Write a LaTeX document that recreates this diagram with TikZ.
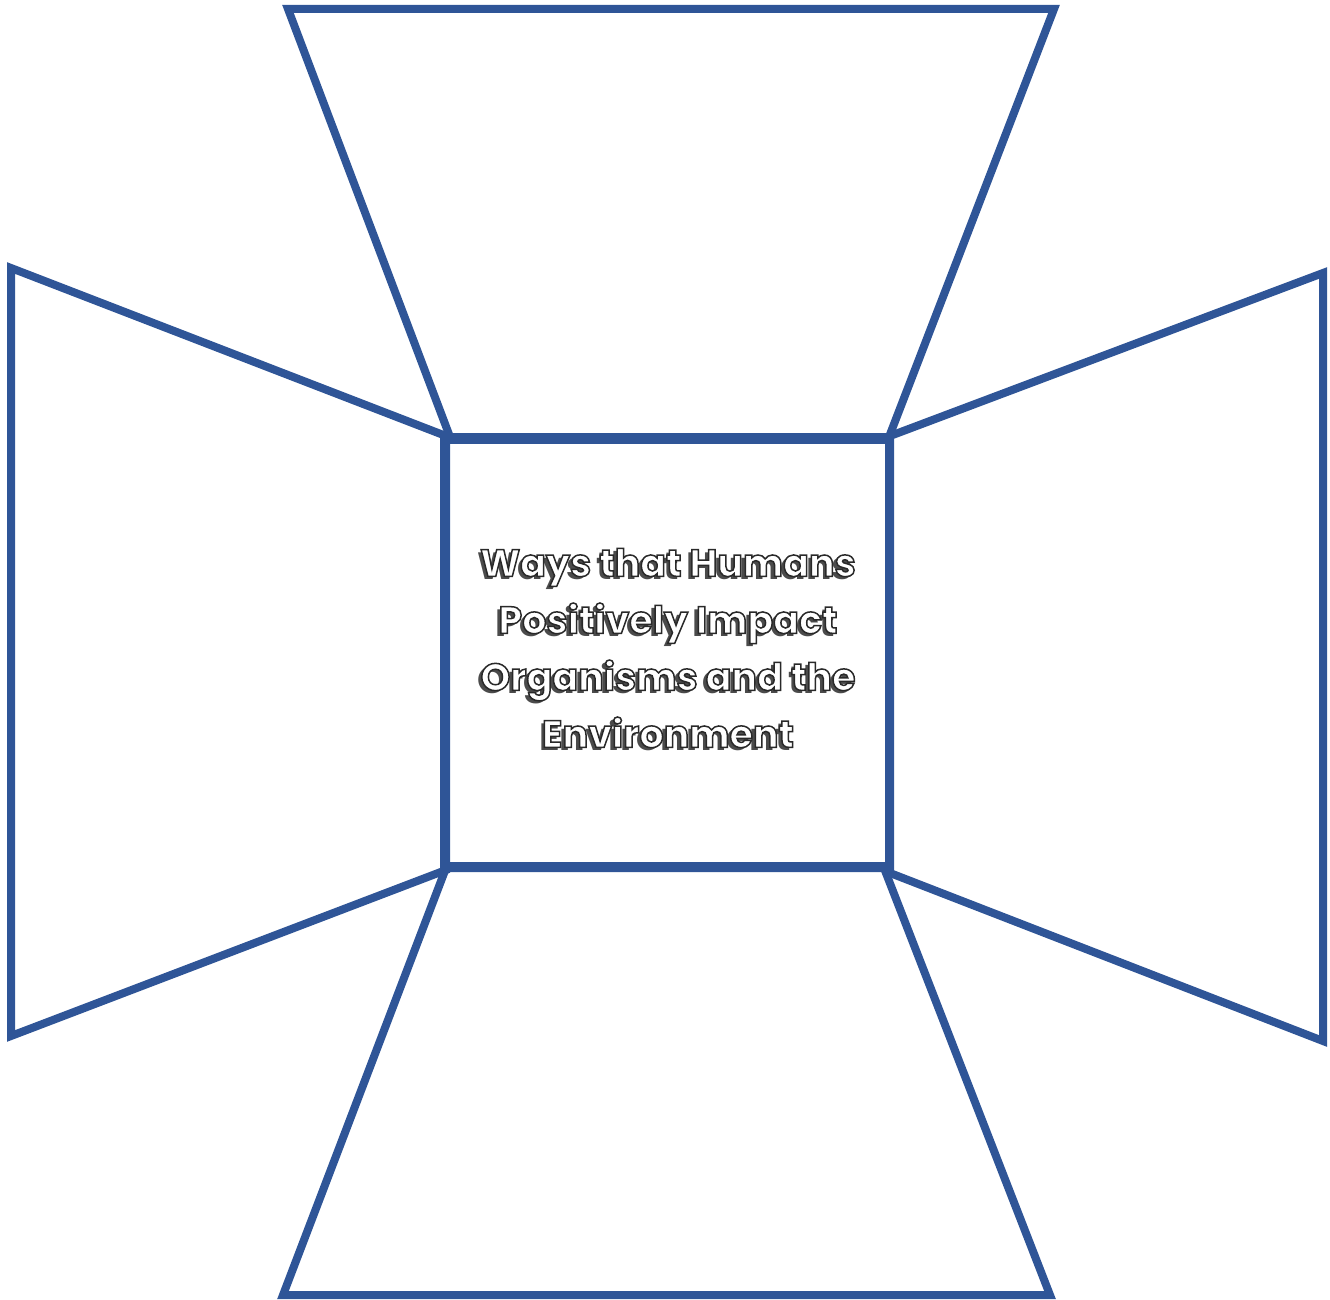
\documentclass[tikz,border=0pt]{standalone}
\usepackage{fontspec}
\setmainfont{Poppins}
\definecolor{frameblue}{RGB}{47,85,151}
\definecolor{shadowgray}{RGB}{75,75,75}
\newcommand{\outlineon}{\special{pdf:literal direct 2 Tr 1.5 w 0.16 0.16 0.16 RG 1 1 1 rg}}
\newcommand{\outlineoff}{\special{pdf:literal direct 0 Tr 0 g 0 G}}
\begin{document}
\begin{tikzpicture}[x=1pt,y=-1pt,
  panel/.style={draw=frameblue,line width=8pt,line join=miter},
  titletext/.style={align=center,font=\fontsize{38}{57}\selectfont\bfseries,inner sep=0pt}]
\useasboundingbox (0,0) rectangle (1330,1300);
% central square
\draw[panel] (444,440) rectangle (889,866);
% top
\draw[panel] (288,9) -- (1054,9) -- (889,437) -- (450,437) -- cycle;
% left
\draw[panel] (11,268) -- (446,436) -- (446,870) -- (11,1036) -- cycle;
% right
\draw[panel] (1323,273) -- (1323,1041) -- (890,873) -- (890,436) -- cycle;
% bottom
\draw[panel] (446,868) -- (884,868) -- (1050,1295) -- (283,1295) -- cycle;
% title with shadow
\node[titletext,text=shadowgray] (titleshadow) at (665,651) {Ways that Humans\\Positively Impact\\Organisms and the\\Environment};
\node[titletext] (title) at (668,648) {\outlineon Ways that Humans\\\outlineon Positively Impact\\\outlineon Organisms and the\\\outlineon Environment\outlineoff};
\end{tikzpicture}
\end{document}
